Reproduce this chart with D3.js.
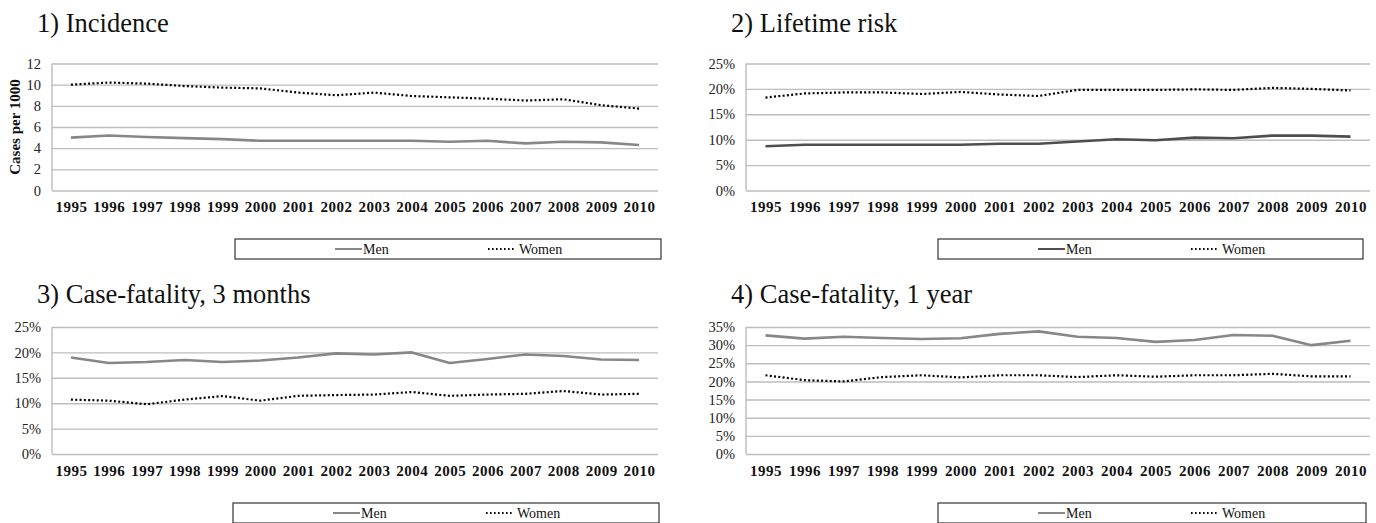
<!DOCTYPE html>
<html>
<head>
<meta charset="utf-8">
<script src="https://cdn.jsdelivr.net/npm/d3@7"></script>
<style>
  html, body { margin: 0; padding: 0; background: #fff; }
  svg { display: block; font-family: "Liberation Serif", "Times New Roman", serif; }
</style>
</head>
<body>
<svg id="chart" width="1376" height="523"></svg>
<script>
// categories
const YEARS = ['1995', '1996', '1997', '1998', '1999', '2000', '2001', '2002',
               '2003', '2004', '2005', '2006', '2007', '2008', '2009', '2010'];

// 1) incidence, cases per 1000
const INC_MEN   = [5.0, 5.2, 5.05, 4.95, 4.85, 4.7, 4.7, 4.7, 4.7, 4.7, 4.6, 4.7, 4.45, 4.6, 4.55, 4.3];
const INC_WOMEN = [10.0, 10.2, 10.1, 9.87, 9.72, 9.65, 9.25, 9.0, 9.25, 8.93, 8.8, 8.68, 8.5, 8.62, 8.06, 7.74];

// 2) lifetime risk, %
const LIFE_MEN   = [8.7, 9.0, 9.0, 9.0, 9.0, 9.0, 9.2, 9.2, 9.66, 10.1, 9.9, 10.4, 10.3, 10.8, 10.8, 10.6];
const LIFE_WOMEN = [18.3, 19.1, 19.3, 19.3, 19.0, 19.4, 18.9, 18.6, 19.8, 19.8, 19.8, 19.9, 19.8, 20.2, 20.0, 19.7];

// 3) case-fatality 3 months, %
const CF3_MEN   = [19.0, 17.9, 18.1, 18.5, 18.1, 18.4, 19.0, 19.8, 19.6, 20.0, 17.9, 18.7, 19.6, 19.3, 18.6, 18.5];
const CF3_WOMEN = [10.7, 10.5, 9.8, 10.7, 11.4, 10.5, 11.45, 11.6, 11.7, 12.2, 11.45, 11.7, 11.85, 12.4, 11.7, 11.85];

// 4) case-fatality 1 year, %
const CF1_MEN   = [32.7, 31.8, 32.3, 31.95, 31.7, 31.9, 33.1, 33.8, 32.3, 31.95, 30.9, 31.4, 32.8, 32.6, 30.0, 31.2];
const CF1_WOMEN = [21.7, 20.35, 20.0, 21.2, 21.7, 21.1, 21.7, 21.7, 21.2, 21.7, 21.3, 21.7, 21.7, 22.1, 21.4, 21.4];

const TITLES = ['1) Incidence', '2) Lifetime risk', '3) Case-fatality, 3 months', '4) Case-fatality, 1 year'];
const Y_TICKS = [
  [0, 2, 4, 6, 8, 10, 12],
  [0, 5, 10, 15, 20, 25],
  [0, 5, 10, 15, 20, 25],
  [0, 5, 10, 15, 20, 25, 30, 35],
];
const SERIES_NAMES = ['Men', 'Women'];

// placement of each panel (plot box, title, legend box)
const PANELS = [
  { men: INC_MEN,  women: INC_WOMEN,  fmt: d => d,       menColor: '#878787', yTitle: 'Cases per 1000',
    x0: 52,  x1: 658,  y0: 63.5, y1: 190.5, tx: 37,  ty: 31.5, lx: 235, ly: 239, lw: 426 },
  { men: LIFE_MEN, women: LIFE_WOMEN, fmt: d => d + '%', menColor: '#4e4e4e',
    x0: 746, x1: 1370, y0: 63.5, y1: 190.5, tx: 731, ty: 31.5, lx: 938, ly: 239, lw: 425 },
  { men: CF3_MEN,  women: CF3_WOMEN,  fmt: d => d + '%', menColor: '#878787',
    x0: 52,  x1: 658,  y0: 327,  y1: 454,   tx: 37,  ty: 303,  lx: 233, ly: 503, lw: 426 },
  { men: CF1_MEN,  women: CF1_WOMEN,  fmt: d => d + '%', menColor: '#878787',
    x0: 746, x1: 1370, y0: 327,  y1: 454,   tx: 731, ty: 303,  lx: 938, ly: 503, lw: 428 },
];

const GRID = '#bdbdbd';
const DOTS = '2,2.3';

const svg = d3.select('#chart');

PANELS.forEach((p, i) => {
  const ticks = Y_TICKS[i];
  const x = d3.scalePoint().domain(YEARS).range([p.x0, p.x1]).padding(0.5);
  const y = d3.scaleLinear().domain([0, d3.max(ticks)]).range([p.y1, p.y0]);
  const g = svg.append('g');

  // title
  g.append('text')
    .attr('x', p.tx).attr('y', p.ty)
    .attr('font-size', 26.5).attr('fill', '#111')
    .text(TITLES[i]);

  // gridlines + y labels
  const yAx = g.append('g')
    .attr('transform', `translate(${p.x0},0)`)
    .call(d3.axisLeft(y).tickValues(ticks).tickFormat(p.fmt)
      .tickSize(-(p.x1 - p.x0)).tickPadding(11));
  yAx.select('.domain').remove();
  yAx.selectAll('line').attr('stroke', GRID).attr('stroke-width', 1.4);
  yAx.selectAll('text')
    .attr('font-family', '"Liberation Serif", serif')
    .attr('font-size', 14.5).attr('fill', '#222');

  // left axis line
  g.append('line')
    .attr('x1', p.x0).attr('x2', p.x0)
    .attr('y1', p.y0).attr('y2', p.y1)
    .attr('stroke', GRID).attr('stroke-width', 1.4);

  // x labels
  const xAx = g.append('g')
    .attr('transform', `translate(0,${p.y1})`)
    .call(d3.axisBottom(x).tickSize(0).tickPadding(11));
  xAx.select('.domain').remove();
  xAx.selectAll('text')
    .attr('font-family', '"Liberation Serif", serif')
    .attr('font-size', 15).attr('font-weight', 'bold').attr('fill', '#111')
    .attr('letter-spacing', 0.5);

  if (p.yTitle) {
    g.append('text')
      .attr('transform', `translate(20,${(p.y0 + p.y1) / 2}) rotate(-90)`)
      .attr('text-anchor', 'middle')
      .attr('font-size', 15).attr('font-weight', 'bold').attr('fill', '#111')
      .text(p.yTitle);
  }

  const line = d3.line()
    .x((d, k) => x(YEARS[k]))
    .y(d => y(d));

  g.append('path').attr('d', line(p.men))
    .attr('fill', 'none').attr('stroke', p.menColor).attr('stroke-width', 2.6)
    .attr('stroke-linejoin', 'round');
  g.append('path').attr('d', line(p.women))
    .attr('fill', 'none').attr('stroke', '#000').attr('stroke-width', 2.2)
    .attr('stroke-dasharray', DOTS);

  // legend
  const lg = g.append('g').attr('transform', `translate(${p.lx},${p.ly})`);
  lg.append('rect')
    .attr('x', 0).attr('y', 0).attr('width', p.lw).attr('height', 20)
    .attr('fill', 'none').attr('stroke', '#333').attr('stroke-width', 1.2);
  lg.append('line')
    .attr('x1', 100).attr('x2', 127).attr('y1', 10).attr('y2', 10)
    .attr('stroke', p.menColor).attr('stroke-width', 2);
  lg.append('text').attr('x', 128).attr('y', 14.5)
    .attr('font-size', 14).attr('fill', '#111').text(SERIES_NAMES[0]);
  lg.append('line')
    .attr('x1', 253).attr('x2', 281).attr('y1', 10).attr('y2', 10)
    .attr('stroke', '#000').attr('stroke-width', 2).attr('stroke-dasharray', '1.6,2.4');
  lg.append('text').attr('x', 284).attr('y', 14.5)
    .attr('font-size', 14).attr('fill', '#111').text(SERIES_NAMES[1]);
});
</script>
</body>
</html>
